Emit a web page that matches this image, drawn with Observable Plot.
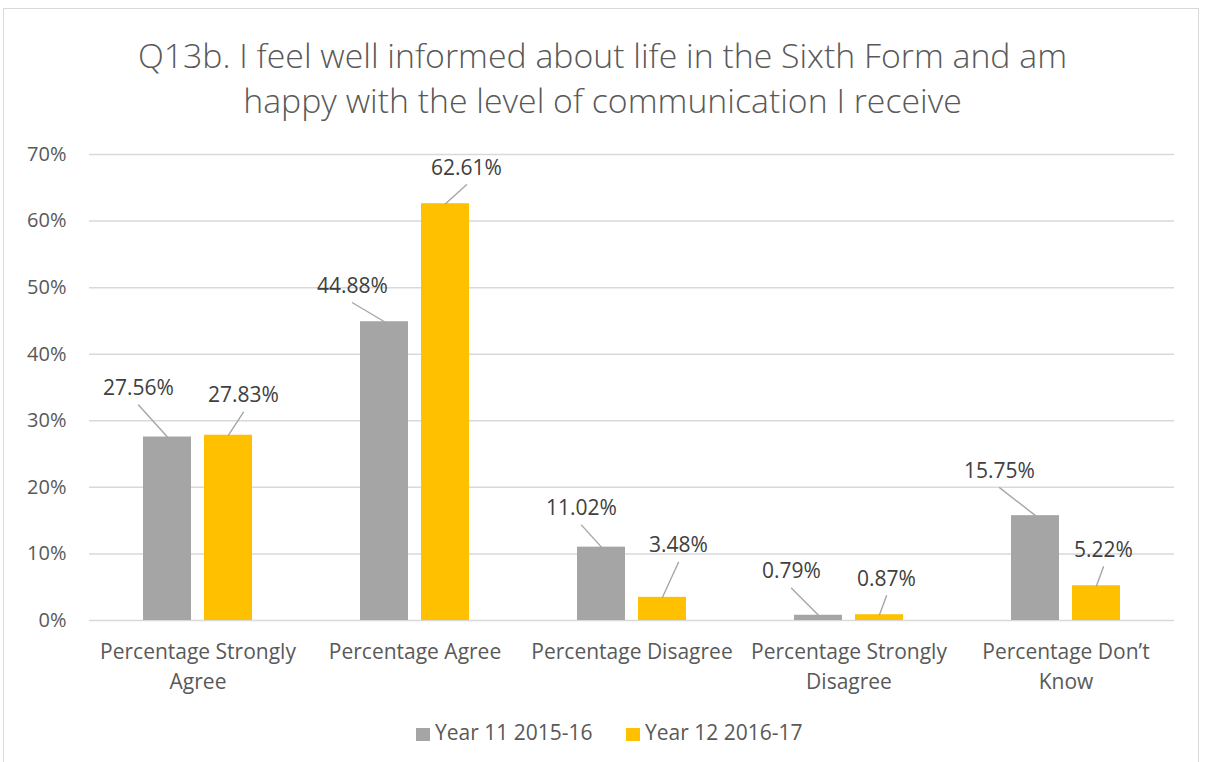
<!DOCTYPE html>
<html>
<head>
<meta charset="utf-8">
<script src="https://cdn.jsdelivr.net/npm/d3@7"></script>
<script src="https://cdn.jsdelivr.net/npm/@observablehq/plot@0.6"></script>
<style>
  body { margin: 0; background: #fff; font-family: "Open Sans", sans-serif; }
  #wrap { position: relative; width: 1205px; height: 762px; overflow: hidden; }
  #frame { position: absolute; left: 3px; top: 8px; width: 1196px; height: 820px; border: 1.5px solid #d9d9d9; box-sizing: border-box; }
  #chart { position: absolute; left: 0; top: 0; }
  #title { position: absolute; left: 0; top: 33px; width: 1205px; text-align: center; font-size: 33.8px; font-weight: 300; line-height: 45px; color: #595959; }
  .sw { position: absolute; width: 14px; height: 13px; top: 728px; }
  .lt { position: absolute; top: 722px; font-size: 21px; line-height: 21px; color: #595959; white-space: nowrap; }
</style>
</head>
<body>
<div id="wrap">
  <div id="frame"></div>
  <div id="chart"></div>
  <div id="title">Q13b. I feel well informed about life in the Sixth Form and am<br>happy with the level of communication I receive</div>
  <div id="legend"></div>
</div>
<script>
// ---- data ----
const categories = ["Percentage Strongly Agree", "Percentage Agree", "Percentage Disagree", "Percentage Strongly Disagree", "Percentage Don’t Know"];
const categoryTickLabels = ["Percentage Strongly\nAgree", "Percentage Agree", "Percentage Disagree", "Percentage Strongly\nDisagree", "Percentage Don’t\nKnow"];
const seriesNames = ["Year 11 2015-16", "Year 12 2016-17"];
const year11 = [27.56, 44.88, 11.02, 0.79, 15.75];
const year12 = [27.83, 62.61, 3.48, 0.87, 5.22];
const yTicks = [0, 10, 20, 30, 40, 50, 60, 70];

// ---- styling ----
const seriesColors = ["#A5A5A5", "#FFC000"];
// pixel offset of each data label's leader-line start from its bar top (annotation layout)
const labelOffsets11 = [[-29, -32], [-32, -19], [-20, -22], [-27, -27], [-36, -28]];
const labelOffsets12 = [[15, -23], [21, -19], [16, -35], [7, -19], [7, -19]];

const rows = [];
categories.forEach((c, i) => {
  rows.push({category: c, series: seriesNames[0], value: year11[i], off: labelOffsets11[i]});
  rows.push({category: c, series: seriesNames[1], value: year12[i], off: labelOffsets12[i]});
});

const leaderShape = {
  draw(context, l) { context.moveTo(0, 0); context.lineTo(0, -l); }
};

const marks = [
  Plot.gridY(yTicks, {stroke: "#D9D9D9", strokeOpacity: 1, strokeWidth: 1.5}),
  Plot.axisY(yTicks, {tickSize: 0, tickPadding: 23, tickFormat: d => d + "%", fontSize: 20, fill: "#595959", label: null}),
  Plot.axisFx({anchor: "bottom", tickSize: 0, tickPadding: 17, fontSize: 21, lineHeight: 1.43, fill: "#595959", label: null,
    tickFormat: d => categoryTickLabels[categories.indexOf(d)]}),
  Plot.barY(rows, {fx: "category", x: "series", y: "value", fill: "series"}),
  ...rows.map(r => Plot.vector([r], {
    fx: "category", x: "series", y: "value", anchor: "start",
    length: Math.hypot(r.off[0], r.off[1]),
    rotate: Math.atan2(r.off[0], -r.off[1]) * 180 / Math.PI,
    shape: leaderShape, stroke: "#A6A6A6", strokeWidth: 1.4, fill: "none"
  })),
  ...rows.map(r => Plot.text([r], {
    fx: "category", x: "series", y: "value",
    text: d => d.value.toFixed(2) + "%",
    dx: r.off[0], dy: r.off[1] - 10, lineAnchor: "bottom",
    fontSize: 21, fill: "#404040"
  }))
];

const chart = Plot.plot({
  width: 1205,
  height: 762,
  marginLeft: 88,
  marginRight: 30,
  marginTop: 154,
  marginBottom: 142,
  fx: {domain: categories, padding: 0, label: null, axis: null},
  x: {domain: seriesNames, paddingInner: 0.21, paddingOuter: 0.87, axis: null},
  y: {domain: [0, 70], axis: null},
  color: {domain: seriesNames, range: seriesColors},
  style: {background: "none", fontFamily: "Open Sans", overflow: "visible"},
  marks
});
document.getElementById("chart").appendChild(chart);

// legend
const legend = document.getElementById("legend");
const legendX = [416, 626];
seriesNames.forEach((s, i) => {
  const sw = document.createElement("div");
  sw.className = "sw";
  sw.style.left = legendX[i] + "px";
  sw.style.background = seriesColors[i];
  legend.appendChild(sw);
  const t = document.createElement("div");
  t.className = "lt";
  t.style.left = (legendX[i] + 19) + "px";
  t.textContent = s;
  legend.appendChild(t);
});
</script>
</body>
</html>
